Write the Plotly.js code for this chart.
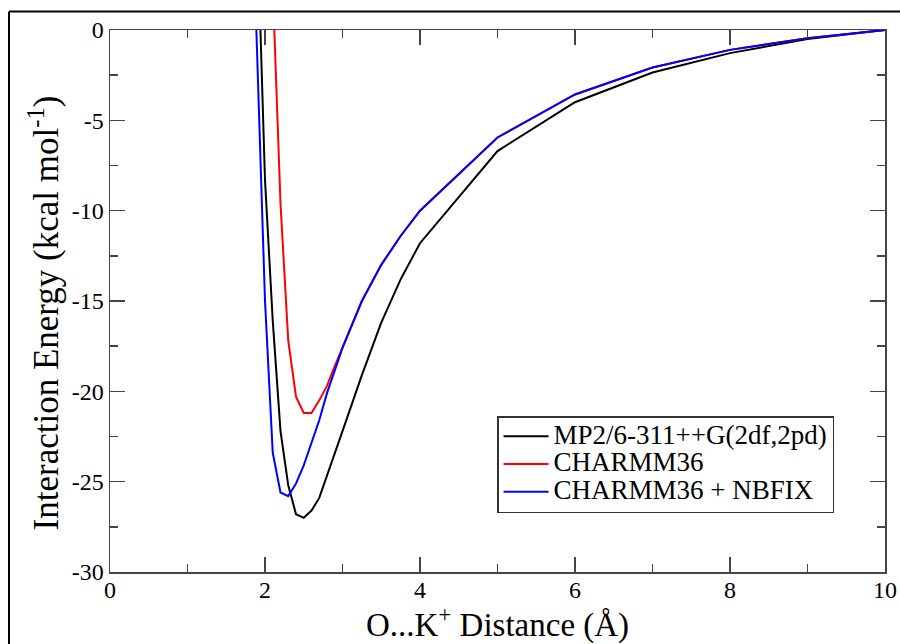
<!DOCTYPE html>
<html>
<head>
<meta charset="utf-8">
<script src="https://cdn.plot.ly/plotly-3.0.1.min.js"></script>
<style>
  html, body { margin: 0; padding: 0; background: #fff; }
  #chart { width: 900px; height: 644px; }
</style>
</head>
<body>
<div id="chart"></div>
<script>
// Distances (Å) and interaction energies (kcal/mol)
const xMP2 = [1.9, 2.0, 2.1, 2.2, 2.3, 2.4, 2.5, 2.6, 2.7, 2.8, 2.9, 3.0, 3.25, 3.5, 3.75, 4, 5, 6, 7, 8, 9, 10];
const eMP2 = [5.8, -8.3, -16.1, -22.2, -25.2, -26.8, -27.0, -26.6, -25.9, -24.7, -23.5, -22.2, -19.1, -16.2, -13.8, -11.8, -6.7, -4.0, -2.35, -1.28, -0.5, 0];

const xC36 = [2.1, 2.2, 2.3, 2.4, 2.5, 2.6, 2.7, 2.8, 2.9, 3.0, 3.25, 3.5, 3.75, 4, 5, 6, 7, 8, 9, 10];
const eC36 = [2.4, -9.6, -17.2, -20.3, -21.2, -21.2, -20.5, -19.7, -18.6, -17.6, -15.0, -13.0, -11.4, -10.0, -5.95, -3.57, -2.08, -1.1, -0.45, 0];

const xNB = [1.8, 1.9, 2.0, 2.1, 2.2, 2.3, 2.4, 2.5, 2.6, 2.7, 2.8, 2.9, 3.0, 3.25, 3.5, 3.75, 4, 5, 6, 7, 8, 9, 10];
const eNB = [11.9, -2.1, -15.0, -23.4, -25.6, -25.8, -25.1, -24.1, -22.9, -21.6, -20.1, -18.8, -17.6, -15.0, -13.0, -11.4, -10.0, -5.95, -3.57, -2.08, -1.1, -0.45, 0];

const seriesNames = ["MP2/6-311++G(2df,2pd)", "CHARMM36", "CHARMM36 + NBFIX"];
const xTickVals = [0, 2, 4, 6, 8, 10];
const xTickText = ["0", "2", "4", "6", "8", "10"];
const yTickVals = [-30, -25, -20, -15, -10, -5, 0];
const yTickText = ["-30", "-25", "-20", "-15", "-10", "-5", "0"];
const xTitle = "O...K<sup>+</sup> Distance (Å)";
const yTitle = "Interaction Energy (kcal mol<sup>-1</sup>)";

const serif = "Liberation Serif";

function legendName(s) {
  return '<span style="font-size:27px">' + s + '</span>';
}

const traces = [
  { x: xMP2, y: eMP2, name: legendName(seriesNames[0]), mode: "lines", line: { color: "#000000", width: 2 } },
  { x: xC36, y: eC36, name: legendName(seriesNames[1]), mode: "lines", line: { color: "#ff0000", width: 2 } },
  { x: xNB, y: eNB, name: legendName(seriesNames[2]), mode: "lines", line: { color: "#0000ff", width: 2 } }
];

function axisBase() {
  return {
    showgrid: false,
    zeroline: false,
    showline: true,
    linecolor: "#444",
    linewidth: 1.5,
    mirror: "allticks",
    ticks: "inside",
    ticklen: 15,
    tickwidth: 1.5,
    tickcolor: "#444",
    tickmode: "array",
    tickfont: { family: serif, size: 24, color: "#000" }
  };
}

const layout = {
  width: 900,
  height: 644,
  margin: { l: 110, r: 15, t: 30, b: 72 },
  paper_bgcolor: "#fff",
  plot_bgcolor: "#fff",
  font: { family: serif, color: "#000" },
  showlegend: true,
  xaxis: Object.assign(axisBase(), {
    range: [0, 10],
    tickvals: xTickVals,
    ticktext: xTickText,
    ticklabelstandoff: -4,
    minor: { dtick: 1, ticks: "inside", ticklen: 8, tickwidth: 1.5, tickcolor: "#444", showgrid: false },
    title: { text: xTitle, font: { family: serif, size: 33, color: "#000" }, standoff: 2 }
  }),
  yaxis: Object.assign(axisBase(), {
    range: [-30, 0],
    tickvals: yTickVals,
    ticktext: yTickText,
    minor: { dtick: 2.5, ticks: "inside", ticklen: 8, tickwidth: 1.5, tickcolor: "#444", showgrid: false }
  }),
  annotations: [
    {
      text: yTitle, xref: "paper", yref: "paper", x: -0.0845, y: 0.478,
      xanchor: "center", yanchor: "middle", textangle: -90, showarrow: false,
      font: { family: serif, size: 35, color: "#000" }
    }
  ],
  legend: {
    x: 0.4994, y: 0.2878, xanchor: "left", yanchor: "top",
    bgcolor: "#fff",
    bordercolor: "#333",
    borderwidth: 1.5,
    font: { family: serif, size: 19, color: "#000" },
    itemwidth: 45
  },
  shapes: [
    { type: "line", xref: "paper", yref: "paper", x0: -0.1303, x1: 1.1, y0: 1.0341, y1: 1.0341, line: { color: "#000", width: 2 } },
    { type: "line", xref: "paper", yref: "paper", x0: -0.1303, x1: -0.1303, y0: -0.2, y1: 1.0341, line: { color: "#000", width: 2 } }
  ]
};

Plotly.newPlot("chart", traces, layout, { displayModeBar: false, staticPlot: true });
</script>
</body>
</html>
